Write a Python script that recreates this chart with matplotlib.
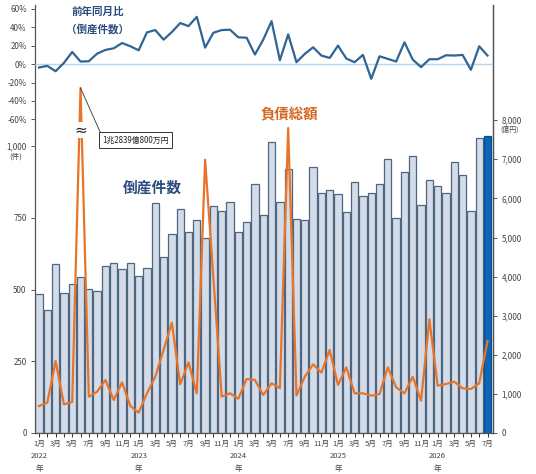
import matplotlib
matplotlib.use('Agg')
import matplotlib.pyplot as plt
import numpy as np

plt.rcParams['font.family'] = ['Noto Sans CJK JP', 'DejaVu Sans']

# ---------------- data ----------------
years = [2022, 2023, 2024, 2025, 2026]
months_per_year = [12, 12, 12, 12, 7]

# 倒産件数 (件)
counts = [483, 428, 588, 487, 518, 545, 501, 494, 583, 593, 570, 593,
          547, 576, 800, 612, 692, 781, 700, 743, 679, 790, 775, 806,
          700, 734, 868, 758, 1015, 806, 920, 745, 742, 926, 835, 847,
          832, 769, 876, 826, 835, 869, 954, 750, 908, 965, 794, 881,
          860, 835, 943, 899, 773, 1027, 1036]

# 負債総額 (億円)
liabilities = [690, 775, 1840, 734, 793, 12839, 929, 1057, 1355, 844, 1296, 690,
               520, 1015, 1440, 2123, 2821, 1245, 1808, 1015, 6990, 3950, 929, 1015,
               878, 1381, 1355, 972, 1270, 1150, 7800, 955, 1440, 1756, 1543, 2123,
               1228, 1680, 1015, 1015, 955, 997, 1680, 1168, 1015, 1440, 827, 2907,
               1210, 1253, 1312, 1143, 1125, 1270, 2353]

# 前年同月比 (倒産件数, %)
yoy = [-3.6, -1.8, -7.6, 1.4, 13.3, 2.9, 3.2, 11.5, 15.5, 17.3, 23.0, 19.5,
       15.1, 34.6, 37.1, 26.7, 35.0, 44.7, 41.4, 51.5, 18.0, 34.2, 37.1, 37.5,
       29.2, 28.8, 10.5, 26.7, 46.8, 4.3, 32.4, 2.2, 11.2, 18.4, 9.4, 6.8,
       20.2, 6.1, 2.2, 10.1, -15.9, 8.6, 5.8, 2.9, 23.8, 5.0, -3.2, 5.4,
       5.4, 9.7, 9.4, 10.1, -6.1, 19.5, 9.4]

count_ticks = [0, 250, 500, 750, 1000]
count_labels = ['0', '250', '500', '750', '1,000']
liab_ticks = [0, 1000, 2000, 3000, 4000, 5000, 6000, 7000, 8000]
liab_labels = ['0', '1,000', '2,000', '3,000', '4,000', '5,000', '6,000', '7,000', '8,000']
pct_ticks = [-60, -40, -20, 0, 20, 40, 60]
pct_labels = ['-60%', '-40%', '-20%', '0%', '20%', '40%', '60%']
spike_note = '1兆2839億800万円'

# ---------------- figure ----------------
W, H = 536, 474
fig = plt.figure(figsize=(W / 100, H / 100), dpi=100)


def fx(px):
    return px / W


def fy(py):
    return 1 - py / H


L, R, T, B = 35, 493, 5, 433
ax = fig.add_axes([fx(L), fy(B), (R - L) / W, (B - T) / H])

n = len(counts)
x = np.arange(n)
fills = ['#d3dce8'] * (n - 1) + ['#0b67b6']
edges = ['#4f6680'] * (n - 1) + ['#0a4f8f']
ax.bar(x, counts, width=0.88, color=fills, edgecolor=edges, linewidth=0.9, zorder=2)
ax.set_xlim(-0.48, n - 1 + 0.66)
ax.set_ylim(0, (B - T) / 0.287)
ax.set_yticks(count_ticks)
ax.set_yticklabels(count_labels)

# x tick labels
xlabels = []
for yr, nm in zip(years, months_per_year):
    for m in range(1, nm + 1):
        if m % 2 == 1:
            lab = f'{m}月'
            if m == 1:
                lab += f'\n{yr}\n年'
            xlabels.append(lab)
        else:
            xlabels.append('')
ax.set_xticks(x)
ax.set_xticklabels(xlabels, fontsize=5.5, color='#444444', linespacing=1.75, va='top')
ax.tick_params(axis='x', length=3, width=0.7, color='#333333', pad=2)
ax.tick_params(axis='y', labelsize=5.8, labelcolor='#444444', length=3, width=0.7, color='#555555', pad=3)

ax.spines['top'].set_visible(False)
for s in ['left', 'right', 'bottom']:
    ax.spines[s].set_color('#555555')
    ax.spines[s].set_linewidth(0.9)

# right axis: liabilities
ax_r = ax.twinx()
ax_r.set_ylim(0, (B - T) / 0.0391)
ax_r.set_yticks(liab_ticks)
ax_r.set_yticklabels(liab_labels)
ax_r.tick_params(axis='y', labelsize=5.8, labelcolor='#444444', length=3, width=0.7, color='#555555', pad=3)
for s in ['top', 'left', 'bottom']:
    ax_r.spines[s].set_visible(False)
ax_r.spines['right'].set_color('#555555')
ax_r.spines['right'].set_linewidth(0.9)

cap = (B - 88) / 0.0391  # broken-axis display cap
liab_disp = np.minimum(np.array(liabilities, dtype=float), cap)
ax_r.plot(x, liab_disp, color='#e8742a', lw=1.6, zorder=3)

# break mark on spike
spike_i = int(np.argmax(liabilities))
ax_r.text(spike_i, (B - 130) / 0.0391, '≈', ha='center', va='center', fontsize=11,
          family='DejaVu Sans', color='#222222',
          bbox=dict(boxstyle='square,pad=0.05', fc='white', ec='none'), zorder=5)

ax_r.annotate(spike_note, xy=(spike_i, cap), xytext=(102.5, H - 140), textcoords='figure pixels',
              ha='left', va='center', fontsize=5.7, color='#222222',
              bbox=dict(boxstyle='square,pad=0.4', fc='white', ec='#333333', lw=0.7),
              arrowprops=dict(arrowstyle='-', color='#333333', lw=0.6, shrinkA=0, shrinkB=0,
                              relpos=(0, 0.8)), zorder=6)

# percent axis (left, upper area)
ax_p = ax.twinx()
zero_above = B - 64.2
ppx = 0.92
ax_p.set_ylim(-zero_above / ppx, (B - T - zero_above) / ppx)
ax_p.yaxis.tick_left()
ax_p.set_yticks(pct_ticks)
ax_p.set_yticklabels(pct_labels)
ax_p.tick_params(axis='y', labelsize=5.8, labelcolor='#444444', length=3, width=0.7, color='#555555', pad=3)
for s in ax_p.spines.values():
    s.set_visible(False)
ax_p.axhline(0, color='#b9d3ea', lw=1.0, zorder=1)
ax_p.plot(x, yoy, color='#2f6496', lw=1.6, zorder=4)

# unit labels
fig.text(fx(16), fy(157), '(件)', ha='center', va='center', fontsize=5.5, color='#444444')
fig.text(fx(510), fy(130), '(億円)', ha='center', va='center', fontsize=5.0, color='#444444')

# series labels
fig.text(fx(72), fy(12), '前年同月比', ha='left', va='center', fontsize=7.6,
         fontweight='bold', color='#2b4c7e')
fig.text(fx(66), fy(29), '（倒産件数）', ha='left', va='center', fontsize=7.6,
         fontweight='bold', color='#2b4c7e')
fig.text(fx(261), fy(115), '負債総額', ha='left', va='center', fontsize=10.4,
         fontweight='bold', color='#d46a22')
fig.text(fx(123), fy(188), '倒産件数', ha='left', va='center', fontsize=10.6,
         fontweight='bold', color='#2b4c7e')

fig.savefig('out.png', dpi=100)
